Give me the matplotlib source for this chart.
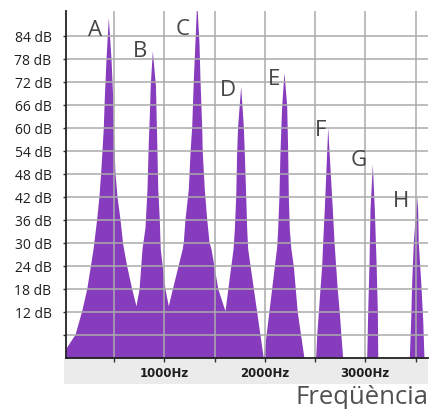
#!/usr/bin/env python3
"""Harmonic spectrum of a 440 Hz tone (A..H peaks), filled purple spectrum."""

import matplotlib
matplotlib.use("Agg")
import matplotlib.pyplot as plt
from matplotlib.patches import Rectangle
from matplotlib.ticker import MultipleLocator

# spectrum outline: frequency (Hz) -> level (dB)
freq_hz = [
    22, 112, 178, 228, 291, 327, 350, 367, 393, 403, 420, 443,
    470, 487, 493, 509, 529, 559, 586, 626, 676, 718,
    749, 778, 808, 828, 841, 852, 860, 881,
    912, 918, 925, 935, 950, 960, 1007, 1040,
    1080, 1178, 1189, 1206, 1239, 1256, 1273, 1289, 1305, 1322,
    1345, 1355, 1372, 1378, 1398, 1422, 1445, 1465, 1533, 1604,
    1632, 1684, 1697, 1711, 1720, 1730, 1760,
    1786, 1796, 1810, 1820, 1830, 1985,
    2118, 2128, 2141, 2151, 2168, 2191,
    2218, 2228, 2234, 2244, 2260, 2284, 2323, 2390,
    2506, 2516, 2533, 2549, 2566, 2576, 2592, 2626,
    2672, 2689, 2705, 2721, 2741, 2758, 2775,
    3014, 3024, 3037, 3047, 3070, 3090, 3107, 3120, 3124,
    3438, 3452, 3462, 3478, 3502, 3511, 3521, 3527, 3551, 3571, 3584,
    3624,
]
level_db = [
    2.6, 6.2, 12.3, 18.0, 28.4, 36.2, 42.2, 48.4, 59.9, 67.7, 77.9, 88.7,
    77.9, 67.7, 59.9, 48.4, 42.2, 36.2, 29.7, 24.0, 18.0, 13.6,
    18.0, 28.4, 34.0, 44.0, 56.3, 64.0, 71.0, 80.0,
    71.0, 64.0, 56.3, 44.0, 36.2, 28.4, 18.0, 13.6,
    18.0, 28.4, 30.2, 36.2, 44.0, 53.6, 60.4, 72.7, 82.3, 93.0,
    82.3, 72.7, 60.4, 53.6, 44.0, 36.2, 30.2, 28.4, 18.0, 12.3,
    18.0, 28.4, 33.6, 42.3, 53.6, 60.5, 70.8,
    60.5, 53.6, 42.3, 33.6, 28.4, 0.0,
    28.9, 33.6, 42.3, 53.6, 65.7, 74.4,
    65.7, 53.6, 42.3, 33.6, 28.4, 24.0, 12.0, 0.0,
    0.0, 5.8, 12.0, 18.0, 24.0, 30.2, 38.8, 60.1,
    38.8, 30.2, 24.0, 18.0, 12.0, 5.8, 0.0,
    0.0, 12.0, 25.0, 38.8, 50.5, 38.8, 25.0, 12.0, 0.0,
    0.0, 10.2, 20.1, 30.2, 38.8, 42.1, 38.8, 30.2, 20.1, 10.2, 0.0,
    0.0,
]

# peak letters and where they sit
peak_names = ["A", "B", "C", "D", "E", "F", "G", "H"]
name_hz = [315, 759, 1181, 1629, 2087, 2559, 2937, 3360]
name_db = [85.7, 80.0, 85.8, 69.9, 72.7, 59.6, 51.6, 41.0]

y_ticks = [6, 12, 18, 24, 30, 36, 42, 48, 54, 60, 66, 72, 78, 84]
y_labels = ["" if v == 6 else f"{v} dB" for v in y_ticks]
x_major = [1000, 2000, 3000]
x_labels = ["1000Hz", "2000Hz", "3000Hz"]

W, H = 430, 410
fig = plt.figure(figsize=(W / 100, H / 100), dpi=100)
fig.patch.set_facecolor("white")

# light grey band under the frequency axis
fig.patches.append(Rectangle((64 / W, (H - 385) / H), (428 - 64) / W, (385 - 359) / H,
                             transform=fig.transFigure, facecolor="#ebebeb",
                             edgecolor="none", zorder=0))

ax = fig.add_axes([66 / W, (H - 359) / H, (428 - 66) / W, (359 - 12) / H])
ax.set_zorder(2)
ax.set_facecolor("none")

ax.fill_between(freq_hz, level_db, 0, color="#873bbd", lw=0, zorder=1)

ax.set_xlim(22, 3624)
ax.set_ylim(0, 90.4)

ax.set_xticks(x_major)
ax.set_xticklabels(x_labels, fontsize=8.5, fontweight="bold", color="#1e1e1e",
                   family="DejaVu Sans")
ax.xaxis.set_minor_locator(MultipleLocator(500))
ax.set_yticks(y_ticks)
ax.set_yticklabels(y_labels, fontsize=10, color="#1e1e1e", family="Open Sans")

ax.tick_params(axis="x", which="both", direction="out", length=3, width=1,
               color="#333333", pad=2.5)
ax.tick_params(axis="y", direction="out", length=2.5, width=1,
               color="#333333", pad=8)

ax.set_axisbelow(False)
ax.grid(True, which="both", color="#ababab", lw=1.1)

for side in ("top", "right"):
    ax.spines[side].set_visible(False)
for side in ("left", "bottom"):
    ax.spines[side].set_color("#222222")
    ax.spines[side].set_linewidth(1.3)
    ax.spines[side].set_zorder(3)

for name, fx, fy in zip(peak_names, name_hz, name_db):
    ax.text(fx, fy, name, fontsize=16, color="#454545", ha="center", va="center",
            family="Open Sans", zorder=4)

fig.text(428 / W, (H - 398) / H, "Freqüència", fontsize=18.5, color="#505050",
         ha="right", va="center", family="Open Sans")

fig.savefig("out.png", dpi=100, facecolor="white")
